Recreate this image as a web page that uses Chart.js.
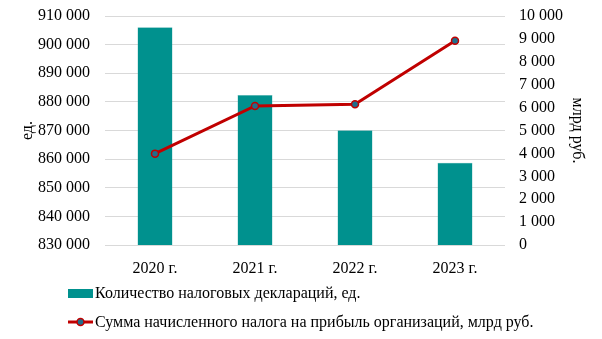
<!DOCTYPE html>
<html>
<head>
<meta charset="utf-8">
<script src="https://cdn.jsdelivr.net/npm/chart.js@4.4.1/dist/chart.umd.min.js"></script>
<style>
  body { margin: 0; background: #fff; }
  canvas { display: block; }
</style>
</head>
<body>
<canvas id="chart" width="602" height="339"></canvas>
<script>
const years = ['2020 г.', '2021 г.', '2022 г.', '2023 г.'];
const declarations = [906100, 882400, 870100, 858700];
const taxSum = [3990, 6070, 6150, 8920];

const barLabel = 'Количество налоговых деклараций, ед.';
const lineLabel = 'Сумма начисленного налога на прибыль организаций, млрд руб.';

const barColor = '#00918E';
const lineColor = '#C00000';
const pointFill = '#1F6E8C';
const fontFamily = '"Liberation Serif", "Times New Roman", serif';

const fmt = v => String(v).replace(/\B(?=(\d{3})+(?!\d))/g, ' ');

// legend drawn by hand: two rows, left aligned under the plot
const legendPlugin = {
    id: 'customLegend',
    afterDraw(chart) {
        const ctx = chart.ctx;
        ctx.save();
        ctx.font = '16px ' + fontFamily;
        ctx.textBaseline = 'middle';
        ctx.textAlign = 'left';

        // bar item
        ctx.fillStyle = barColor;
        ctx.fillRect(68, 289, 25, 9);
        ctx.fillStyle = '#000';
        ctx.fillText(barLabel, 95, 294);

        // line item
        ctx.strokeStyle = lineColor;
        ctx.lineWidth = 3;
        ctx.beginPath();
        ctx.moveTo(68, 322);
        ctx.lineTo(93, 322);
        ctx.stroke();
        ctx.beginPath();
        ctx.arc(80.5, 322, 3.5, 0, Math.PI * 2);
        ctx.fillStyle = pointFill;
        ctx.fill();
        ctx.lineWidth = 1.5;
        ctx.stroke();
        ctx.fillStyle = '#000';
        ctx.fillText(lineLabel, 95, 323);
        ctx.restore();
    }
};

const fitY = width => scale => {
    scale.width = width;
    scale.paddingTop = 0;
    scale.paddingBottom = 0;
};

const ctx = document.getElementById('chart').getContext('2d');
new Chart(ctx, {
    type: 'bar',
    data: {
        labels: years,
        datasets: [
            {
                type: 'line',
                label: lineLabel,
                data: taxSum,
                yAxisID: 'y2',
                borderColor: lineColor,
                borderWidth: 3,
                tension: 0,
                pointRadius: 3.5,
                pointBorderWidth: 1.5,
                pointBackgroundColor: pointFill,
                pointBorderColor: lineColor,
                order: 0
            },
            {
                label: barLabel,
                data: declarations,
                yAxisID: 'y',
                backgroundColor: barColor,
                borderColor: '#5DB6B3',
                borderWidth: 0.5,
                barPercentage: 0.35,
                categoryPercentage: 1,
                order: 1
            }
        ]
    },
    options: {
        responsive: false,
        animation: false,
        layout: { padding: { top: 16, bottom: 0, left: 0, right: 0 } },
        plugins: {
            legend: { display: false },
            tooltip: { enabled: false }
        },
        scales: {
            x: {
                grid: { display: false, drawTicks: false },
                border: { display: false },
                ticks: {
                    padding: 14,
                    color: '#000',
                    font: { family: fontFamily, size: 16 }
                },
                afterFit: scale => { scale.height = 94; }
            },
            y: {
                position: 'left',
                min: 830000,
                max: 910000,
                grid: { color: '#D9D9D9', lineWidth: 1, drawTicks: false },
                border: { display: false },
                ticks: {
                    stepSize: 10000,
                    autoSkip: false,
                    padding: 15,
                    color: '#000',
                    font: { family: fontFamily, size: 16 },
                    callback: v => fmt(v)
                },
                title: {
                    display: true,
                    text: 'ед.',
                    color: '#000',
                    font: { family: fontFamily, size: 16 },
                    padding: { top: 18, bottom: 0 }
                },
                afterFit: fitY(105)
            },
            y2: {
                position: 'right',
                min: 0,
                max: 10000,
                grid: { display: false, drawTicks: false },
                border: { display: false },
                ticks: {
                    stepSize: 1000,
                    autoSkip: false,
                    padding: 14,
                    color: '#000',
                    font: { family: fontFamily, size: 16 },
                    callback: v => fmt(v)
                },
                title: {
                    display: true,
                    text: 'млрд руб.',
                    color: '#000',
                    font: { family: fontFamily, size: 16 },
                    padding: { top: 15, bottom: 0 }
                },
                afterFit: fitY(97)
            }
        }
    },
    plugins: [legendPlugin]
});
</script>
</body>
</html>
